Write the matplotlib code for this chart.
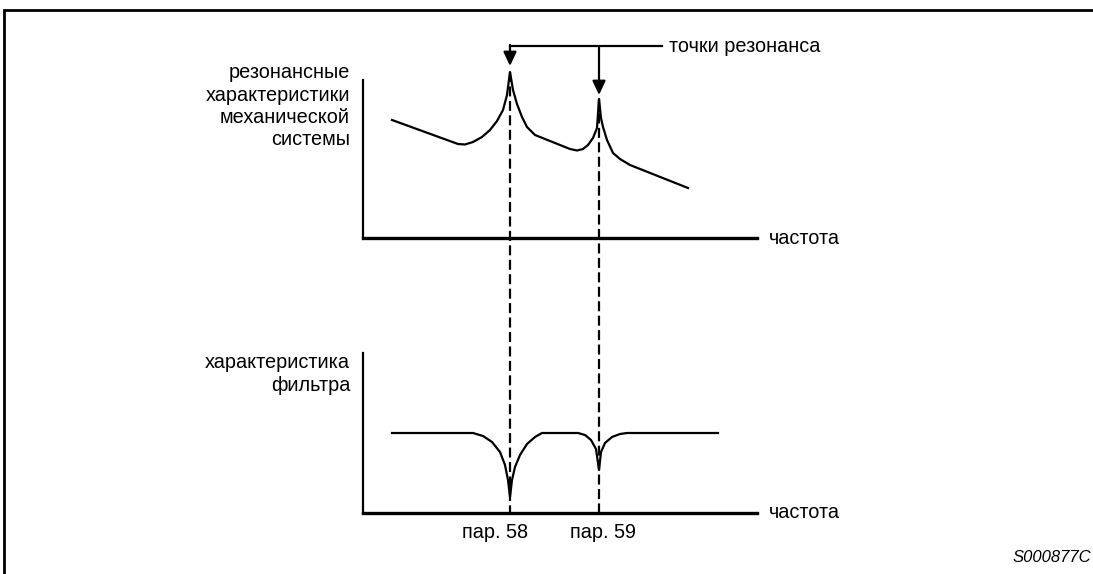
import matplotlib.pyplot as plt

plt.rcParams['font.family'] = ['Liberation Sans', 'DejaVu Sans']

# resonance curve of the mechanical system (x = frequency, y = level, pixel-like units)
res_x = [392, 458, 465, 473, 482, 490, 497, 503, 507, 510, 513, 517, 522, 527, 535,
         570, 577, 583, 588, 593, 597, 599, 601, 603, 607, 613, 620, 630, 688]
res_y = [120, 144, 144.5, 142, 137, 130, 121, 110, 95, 72, 90, 104, 117, 127, 135,
         149, 150.5, 149, 145, 138, 128, 99, 118, 127, 140, 153, 159, 165, 188]

# notch filter characteristic
flt_x = [392, 473, 483, 492, 500, 505, 508, 510, 512, 515, 520, 527, 535, 542,
         578, 585, 591, 596, 599, 601, 605, 612, 620, 627, 718]
flt_y = [433, 433, 436, 442, 452, 465, 480, 497, 480, 467, 455, 444, 437, 433,
         433, 435, 440, 449, 470, 452, 443, 437, 434, 433, 433]

res_freqs = [510, 599]
param_labels = ['пар. 58', 'пар. 59']

top_label = ['резонансные', 'характеристики', 'механической', 'системы']
bottom_label = ['характеристика', 'фильтра']

FS = 14.3

fig = plt.figure(figsize=(10.93, 5.74), dpi=100)
ax = fig.add_axes([0, 0, 1, 1])
ax.set_xlim(0, 1093)
ax.set_ylim(574, 0)
ax.axis('off')

# рамка
ax.plot([4, 4, 1093], [574, 10, 10], color='black', lw=2.0, solid_joinstyle='miter')

# оси
for y0, y1 in [(80, 238), (353, 513)]:
    ax.plot([363, 363], [y0, y1], color='black', lw=1.6)
    ax.plot([362.5, 757], [y1, y1], color='black', lw=2.4)
    ax.text(769, y1, 'частота', fontsize=FS, va='center', ha='left')

# кривые
ax.plot(res_x, res_y, color='black', lw=1.6)
ax.plot(flt_x, flt_y, color='black', lw=1.6)

# пунктир
for xf in res_freqs:
    ytop = res_y[res_x.index(xf)]
    ax.plot([xf, xf], [ytop, 512], color='black', lw=1.6, ls=(0, (4.5, 2)))

# подписи осей
for i, s in enumerate(top_label):
    ax.text(350, 73 + 22.3 * i, s, fontsize=FS, ha='right', va='center')
for i, s in enumerate(bottom_label):
    ax.text(350, 362 + 23.5 * i, s, fontsize=FS, ha='right', va='center')

# точки резонанса
ax.plot([res_freqs[0], 662], [46, 46], color='black', lw=1.6)
astyle = dict(arrowstyle='-|>,head_length=0.6,head_width=0.28', color='black',
              lw=1.6, mutation_scale=14, shrinkA=0, shrinkB=0)
ax.annotate('', xy=(res_freqs[0], 66), xytext=(res_freqs[0], 45), arrowprops=astyle)
ax.annotate('', xy=(res_freqs[1], 95), xytext=(res_freqs[1], 46), arrowprops=astyle)
ax.text(669, 46, 'точки резонанса', fontsize=FS, va='center', ha='left')

for xf, lab, dx in zip(res_freqs, param_labels, [-15, 4]):
    ax.text(xf + dx, 533, lab, fontsize=FS, va='center', ha='center')

ax.text(1091, 557, 'S000877C', fontsize=12, style='italic', va='center', ha='right')

fig.savefig('out.png', dpi=100)
